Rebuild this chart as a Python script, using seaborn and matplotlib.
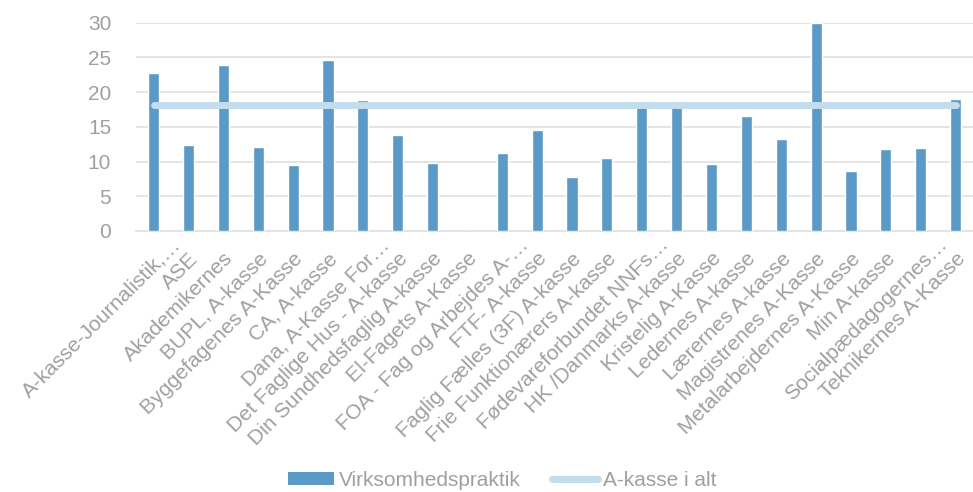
import numpy as np
import pandas as pd
import matplotlib
matplotlib.use("Agg")
import matplotlib.pyplot as plt
import matplotlib.transforms as mtransforms
import seaborn as sns
from matplotlib.patches import Patch
from matplotlib.lines import Line2D

categories = [
    "A-kasse-Journalistik,…", "ASE", "Akademikernes", "BUPL, A-kasse",
    "Byggefagenes A-Kasse", "CA, A-kasse", "Dana, A-Kasse For…",
    "Det Faglige Hus - A-kasse", "Din Sundhedsfaglig A-kasse", "El-Fagets A-Kasse",
    "FOA - Fag og Arbejdes A-…", "FTF- A-kasse", "Faglig Fælles (3F) A-kasse",
    "Frie Funktionærers A-kasse", "Fødevareforbundet NNFs…", "HK /Danmarks A-kasse",
    "Kristelig A-Kasse", "Ledernes A-kasse", "Lærernes A-kasse",
    "Magistrenes A-Kasse", "Metalarbejdernes A-Kasse", "Min A-kasse",
    "Socialpædagogernes…", "Teknikernes A-Kasse",
]
virksomhedspraktik = [
    22.7, 12.4, 23.9, 12.1, 9.5, 24.6, 18.8, 13.8, 9.8, 0.0,
    11.3, 14.5, 7.8, 10.55, 18.7, 18.1, 9.65, 16.6, 13.25,
    30.0, 8.6, 11.8, 11.9, 19.0,
]
a_kasse_i_alt = 18.1

yticks = [0, 5, 10, 15, 20, 25, 30]

bar_color = "#5B9AC6"
line_color = "#C3DDED"
text_color = "#A0A0A0"
grid_color = "#E2E2E2"

sns.set_theme(style="white")
plt.rcParams["font.family"] = ["Liberation Sans", "DejaVu Sans"]

df = pd.DataFrame({"kasse": categories, "value": virksomhedspraktik})

fig = plt.figure(figsize=(9.73, 4.92), dpi=100)
ax = fig.add_axes([0.14, 0.5305, 0.86, 0.4235])

sns.barplot(data=df, x="kasse", y="value", color=bar_color, width=0.32,
            saturation=1, ax=ax, zorder=3)

pos = np.arange(len(categories))
sns.lineplot(x=pos, y=[a_kasse_i_alt] * len(categories), ax=ax,
             color=line_color, linewidth=5, zorder=4,
             solid_capstyle="round")

ax.set_ylim(0, 30)
ax.set_xlim(-0.5, len(categories) - 0.5)
ax.set_yticks(yticks)
ax.set_yticklabels([str(t) for t in yticks], fontsize=15, color=text_color)
ax.yaxis.grid(True, color=grid_color, linewidth=1.3, zorder=0)
ax.set_axisbelow(True)
ax.tick_params(axis="y", length=0, pad=18)
ax.tick_params(axis="x", length=0, pad=13)
ax.set_xticks(pos)
ax.set_xticklabels(categories, rotation=45, ha="right",
                   rotation_mode="anchor", fontsize=15.2, color=text_color)
# truncated labels sit a little further along the diagonal
for lab in ax.get_xticklabels():
    if lab.get_text().endswith("…"):
        off = mtransforms.ScaledTranslation(0.17, 0.14, fig.dpi_scale_trans)
        lab.set_transform(lab.get_transform() + off)
ax.set_xlabel("")
ax.set_ylabel("")
for s in ["top", "right", "left"]:
    ax.spines[s].set_visible(False)
ax.spines["bottom"].set_color(grid_color)
ax.spines["bottom"].set_linewidth(1.3)

handles = [
    Patch(facecolor=bar_color, edgecolor="none", label="Virksomhedspraktik"),
    Line2D([0], [0], color=line_color, linewidth=5,
           solid_capstyle="round", label="A-kasse i alt"),
]
leg = fig.legend(handles=handles, loc="center", bbox_to_anchor=(0.516, 0.024),
                 ncol=2, frameon=False, fontsize=15, handlelength=2.2,
                 handleheight=0.6, columnspacing=1.5, handletextpad=0.25)
for t in leg.get_texts():
    t.set_color(text_color)

fig.savefig("out.png", dpi=100, facecolor="white")
